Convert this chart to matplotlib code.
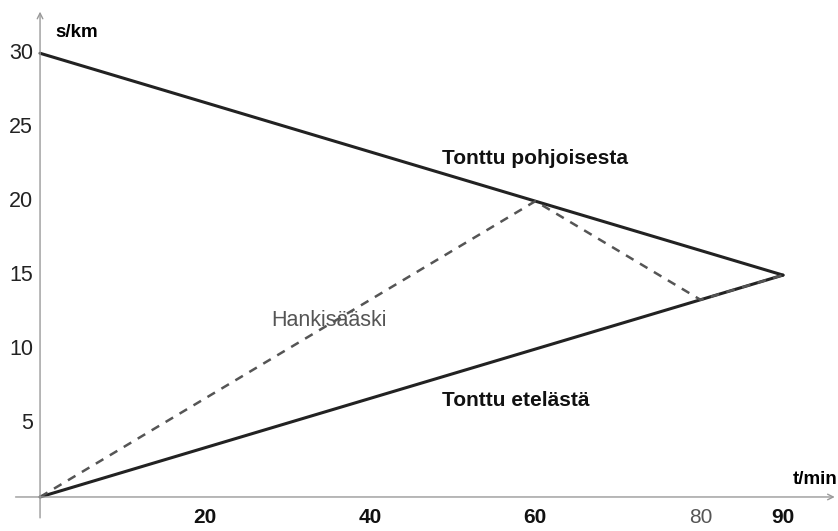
import matplotlib
matplotlib.use('Agg')
import matplotlib.pyplot as plt

# data (t in min, s in km)
north_t = [0, 90]
north_s = [30, 15]
south_t = [0, 90]
south_s = [0, 15]
bird_t = [0, 60, 80, 90]
bird_s = [0, 20, 40 / 3, 15]

ytick_vals = [5, 10, 15, 20, 25, 30]
xtick_vals = [20, 40, 60, 80, 90]

plt.rcParams['font.family'] = ['Liberation Sans', 'DejaVu Sans']

fig = plt.figure(figsize=(8.38, 5.31), dpi=100)
ax = fig.add_axes([0, 0, 1, 1])
ax.set_xlim(-4.85, 96.66)
ax.set_ylim(-2.3, 33.6)
ax.axis('off')

# axes with arrows
ax.annotate('', xy=(96.6, 0), xytext=(-3.3, 0),
            arrowprops=dict(arrowstyle='->', color='#9a9a9a', lw=1.0))
ax.annotate('', xy=(0, 33.0), xytext=(0, -1.6),
            arrowprops=dict(arrowstyle='->', color='#9a9a9a', lw=1.0))

ax.plot(north_t, north_s, color='#222222', lw=2.2, solid_capstyle='round')
ax.plot(south_t, south_s, color='#222222', lw=2.2, solid_capstyle='round')
ax.plot(bird_t, bird_s, color='#555555', lw=1.8, linestyle=(0, (3.5, 3)))

for v in ytick_vals:
    ax.text(-0.85, v, str(v), ha='right', va='center', fontsize=15.5, color='#222222')
for v in xtick_vals:
    col = '#555555' if v == 80 else '#111111'
    w = 'normal' if v == 80 else 'bold'
    ax.text(v, -1.39, str(v), ha='center', va='center', fontsize=15,
            color=col, fontweight=w)

ax.text(1.8, 31.4, 's/km', ha='left', va='center', fontsize=13.5, fontweight='bold')
ax.text(91.2, 1.15, 't/min', ha='left', va='center', fontsize=13.5, fontweight='bold')

ax.text(60.0, 22.9, 'Tonttu pohjoisesta', ha='center', va='center',
        fontsize=15, fontweight='bold', color='#111111')
ax.text(35.0, 11.96, 'Hankisääski', ha='center', va='center',
        fontsize=15.5, color='#555555')
ax.text(57.6, 6.55, 'Tonttu etelästä', ha='center', va='center',
        fontsize=15, fontweight='bold', color='#111111')

fig.savefig('out.png', dpi=100)
plt.close(fig)
